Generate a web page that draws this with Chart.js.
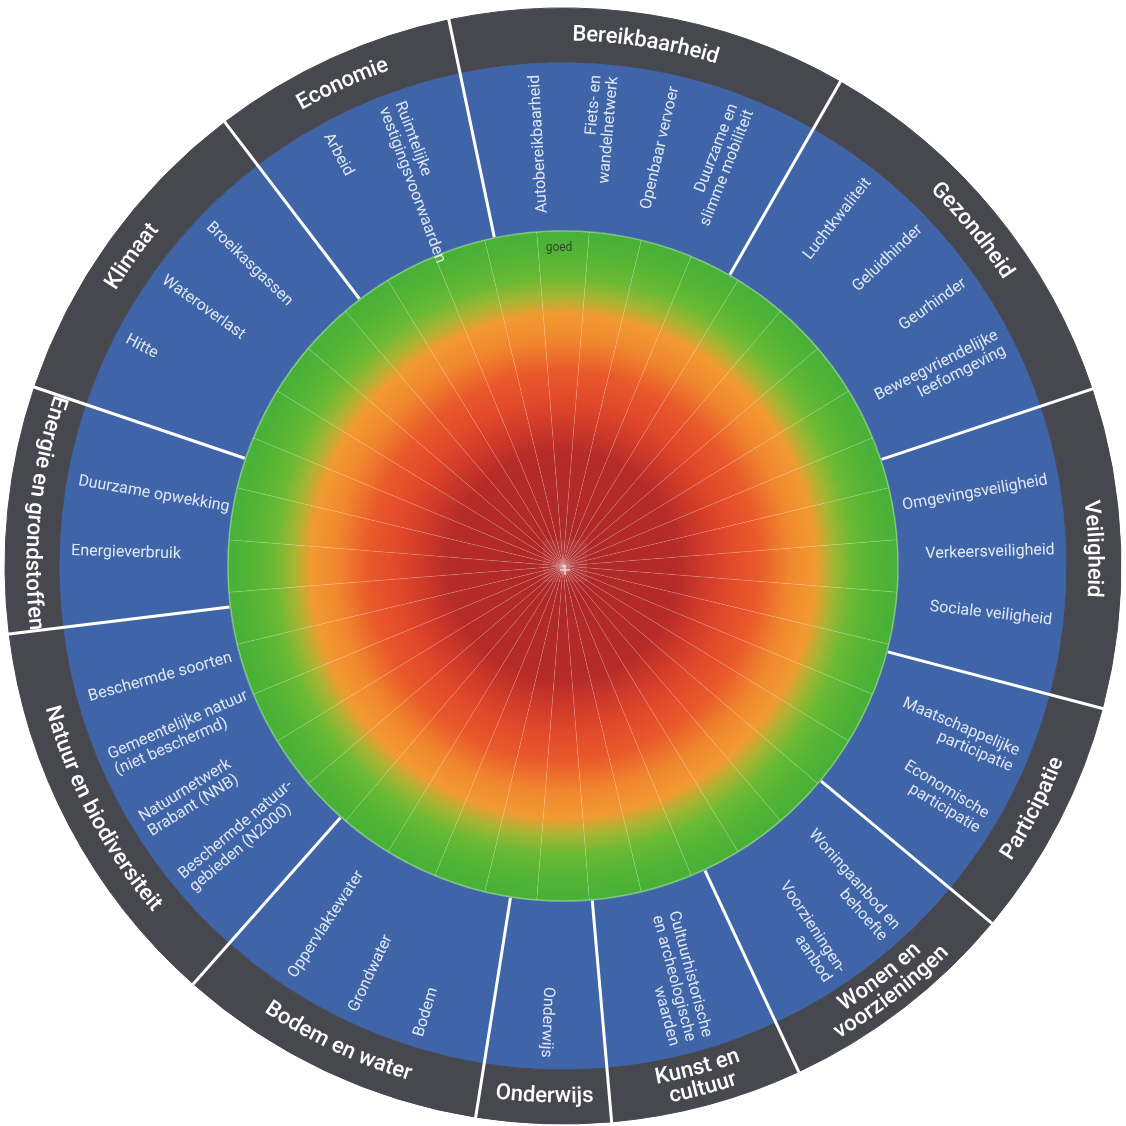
<!DOCTYPE html>
<html lang="nl">
<head>
<meta charset="UTF-8">
<meta name="viewport" content="width=device-width, initial-scale=1.0">
<title>Afwegingswiel</title>
<script src="https://cdn.jsdelivr.net/npm/chart.js"></script>
<style>
  html, body { margin: 0; padding: 0; background: #ffffff; }
  canvas { display: block; }
</style>
</head>
<body>
<canvas id="wiel" width="1126" height="1126"></canvas>

<script>
    // thema's met hun hoekbreedte in graden, met de klok mee vanaf Bereikbaarheid
    var themas = ['Bereikbaarheid', 'Gezondheid', 'Veiligheid', 'Participatie', 'Wonen en\nvoorzieningen',
        'Kunst en\ncultuur', 'Onderwijs', 'Bodem en water', 'Natuur en biodiversiteit',
        'Energie en grondstoffen', 'Klimaat', 'Economie'];
    var themaHoek = [41.6, 41.7, 33.3, 25.0, 25.2, 20.0, 14.0, 32.5, 41.5, 25.7, 34.0, 25.5];
    var startHoek = -11.8;

    // indicatoren per thema, ook met de klok mee
    var indicatoren = [
        ['Autobereikbaarheid', 'Fiets- en\nwandelnetwerk', 'Openbaar vervoer', 'Duurzame en\nslimme mobiliteit'],
        ['Luchtkwaliteit', 'Geluidhinder', 'Geurhinder', 'Beweegvriendelijke\nleefomgeving'],
        ['Omgevingsveiligheid', 'Verkeersveiligheid', 'Sociale veiligheid'],
        ['Maatschappelijke\nparticipatie', 'Economische\nparticipatie'],
        ['Woningaanbod en\nbehoefte', 'Voorzieningen-\naanbod'],
        ['Cultuurhistorische\nen archeologische\nwaarden'],
        ['Onderwijs'],
        ['Bodem', 'Grondwater', 'Oppervlaktewater'],
        ['Beschermde natuur-\ngebieden (N2000)', 'Natuurnetwerk\nBrabant (NNB)', 'Gemeentelijke natuur\n(niet beschermd)', 'Beschermde soorten'],
        ['Energieverbruik', 'Duurzame opwekking'],
        ['Hitte', 'Wateroverlast', 'Broeikasgassen'],
        ['Arbeid', 'Ruimtelijke\nvestigingsvoorwaarden']
    ];

    // de schijf met de score-kleuren is in 40 gelijke vakken verdeeld
    var scoreVakken = [1, 1, 1, 1, 1, 1, 1, 1, 1, 1, 1, 1, 1, 1, 1, 1, 1, 1, 1, 1,
                       1, 1, 1, 1, 1, 1, 1, 1, 1, 1, 1, 1, 1, 1, 1, 1, 1, 1, 1, 1];
    var schaalLabel = 'goed';

    var GRIJS = '#47474f';
    var BLAUW = '#3f65a8';
    var STAP = 8.2 * Math.PI / 180;   // hoek tussen twee indicatoren

    function verloop(c) {
        var chart = c.chart;
        var area = chart.chartArea;
        if (!area) return '#4cb034';
        var r = chart.getDatasetMeta(c.datasetIndex).controller.outerRadius || 336;
        var cx = (area.left + area.right) / 2, cy = (area.top + area.bottom) / 2;
        var g = chart.ctx.createRadialGradient(cx, cy, 0, cx, cy, r);
        g.addColorStop(0.00, '#ad2829');
        g.addColorStop(0.34, '#b62b28');
        g.addColorStop(0.42, '#cf3a29');
        g.addColorStop(0.50, '#e24a2a');
        g.addColorStop(0.58, '#e9592a');
        g.addColorStop(0.67, '#f0862e');
        g.addColorStop(0.75, '#f29a31');
        g.addColorStop(0.80, '#a9b533');
        g.addColorStop(0.86, '#6aba34');
        g.addColorStop(0.93, '#53b435');
        g.addColorStop(1.00, '#46b038');
        return g;
    }

    function boogTekst(c, tekst, cx, cy, r, mid, onder) {
        var totaal = 0, i;
        for (i = 0; i < tekst.length; i++) totaal += c.measureText(tekst[i]).width;
        var span = totaal / r, pos = 0;
        for (i = 0; i < tekst.length; i++) {
            var w = c.measureText(tekst[i]).width;
            var a = onder ? mid + span / 2 - (pos + w / 2) / r : mid - span / 2 + (pos + w / 2) / r;
            c.save();
            c.translate(cx + Math.cos(a) * r, cy + Math.sin(a) * r);
            c.rotate(onder ? a - Math.PI / 2 : a + Math.PI / 2);
            c.fillText(tekst[i], 0, 0);
            c.restore();
            pos += w;
        }
    }

    var wielTeksten = {
        id: 'wielTeksten',
        afterDatasetsDraw: function (chart) {
            var c = chart.ctx;
            var buiten = chart.getDatasetMeta(0).data;
            var ring = chart.getDatasetMeta(1).data;
            var cx = buiten[0].x, cy = buiten[0].y;
            var rBuiten = buiten[0].outerRadius;
            var rRing = buiten[0].innerRadius;
            var rSchijf = ring[0].innerRadius;

            // lichte rand om de gekleurde schijf
            c.save();
            c.strokeStyle = 'rgba(200,240,190,0.45)';
            c.lineWidth = 1.5;
            c.beginPath();
            c.arc(cx, cy, rSchijf - 1, 0, Math.PI * 2);
            c.stroke();
            c.restore();

            // witte lijnen tussen de thema's
            c.save();
            c.strokeStyle = '#ffffff';
            c.lineWidth = 3;
            buiten.forEach(function (arc) {
                var a = arc.startAngle;
                c.beginPath();
                c.moveTo(cx + Math.cos(a) * rSchijf, cy + Math.sin(a) * rSchijf);
                c.lineTo(cx + Math.cos(a) * (rBuiten + 2), cy + Math.sin(a) * (rBuiten + 2));
                c.stroke();
            });
            c.restore();

            // indicatoren in de blauwe ring
            c.save();
            c.font = '16px Roboto';
            c.fillStyle = 'rgba(236,241,250,0.92)';
            c.textBaseline = 'middle';
            var anker = rRing - 12;
            ring.forEach(function (arc, i) {
                var mid = (arc.startAngle + arc.endAngle) / 2;
                var lijst = indicatoren[i];
                lijst.forEach(function (naam, j) {
                    var a = mid + (j - (lijst.length - 1) / 2) * STAP;
                    var theta = ((a + Math.PI / 2) * 180 / Math.PI % 360 + 360) % 360;
                    var naarBuiten = theta < 185 || theta >= 350;
                    var regels = naam.split('\n');
                    c.save();
                    c.translate(cx + Math.cos(a) * anker, cy + Math.sin(a) * anker);
                    c.rotate(naarBuiten ? a : a + Math.PI);
                    c.textAlign = naarBuiten ? 'right' : 'left';
                    regels.forEach(function (regel, k) {
                        c.fillText(regel, 0, (k - (regels.length - 1) / 2) * 17);
                    });
                    c.restore();
                });
            });
            c.restore();

            // thema's in de grijze buitenring
            c.save();
            c.font = '500 22px Roboto';
            c.fillStyle = '#ffffff';
            c.textAlign = 'center';
            c.textBaseline = 'middle';
            var rMidden = (rBuiten + rRing) / 2;
            buiten.forEach(function (arc, i) {
                var mid = (arc.startAngle + arc.endAngle) / 2;
                var theta = ((mid + Math.PI / 2) * 180 / Math.PI % 360 + 360) % 360;
                var onder = theta > 95 && theta < 285;
                var regels = themas[i].split('\n');
                regels.forEach(function (regel, k) {
                    var d = ((regels.length - 1) / 2 - k) * 21;
                    boogTekst(c, regel, cx, cy, onder ? rMidden - d : rMidden + d, mid, onder);
                });
            });
            c.restore();

            // schaal-label en middelpunt
            c.save();
            c.font = '12px Roboto';
            c.fillStyle = '#2c4a2c';
            c.textAlign = 'center';
            c.textBaseline = 'middle';
            c.fillText(schaalLabel, cx - 4, cy - rSchijf + 18);
            c.fillStyle = 'rgba(255,255,255,0.06)';
            c.fillRect(cx - 20, cy - 26, 44, 42);
            c.strokeStyle = 'rgba(255,255,255,0.7)';
            c.lineWidth = 1.5;
            c.beginPath();
            c.moveTo(cx - 3, cy + 4); c.lineTo(cx + 7, cy + 4);
            c.moveTo(cx + 2, cy - 1); c.lineTo(cx + 2, cy + 9);
            c.stroke();
            c.restore();
        }
    };

    var ctx = document.getElementById('wiel').getContext('2d');
    var chart = new Chart(ctx, {
        type: 'doughnut',
        data: {
            labels: themas,
            datasets: [
                { data: themaHoek, backgroundColor: GRIJS, borderColor: GRIJS, borderWidth: 1, weight: 54 },
                { data: themaHoek, backgroundColor: BLAUW, borderColor: BLAUW, borderWidth: 1, weight: 168 },
                { data: scoreVakken, backgroundColor: verloop, borderColor: 'rgba(255,255,255,0.12)',
                  borderWidth: 0.8, weight: 336, rotation: -4.5 }
            ]
        },
        options: {
            responsive: false,
            devicePixelRatio: 1,
            animation: false,
            events: [],
            rotation: startHoek,
            cutout: 0,
            radius: 558,
            layout: { padding: { top: 6 } },
            plugins: {
                legend: { display: false },
                tooltip: { enabled: false }
            }
        },
        plugins: [wielTeksten]
    });
</script>

</body>
</html>
